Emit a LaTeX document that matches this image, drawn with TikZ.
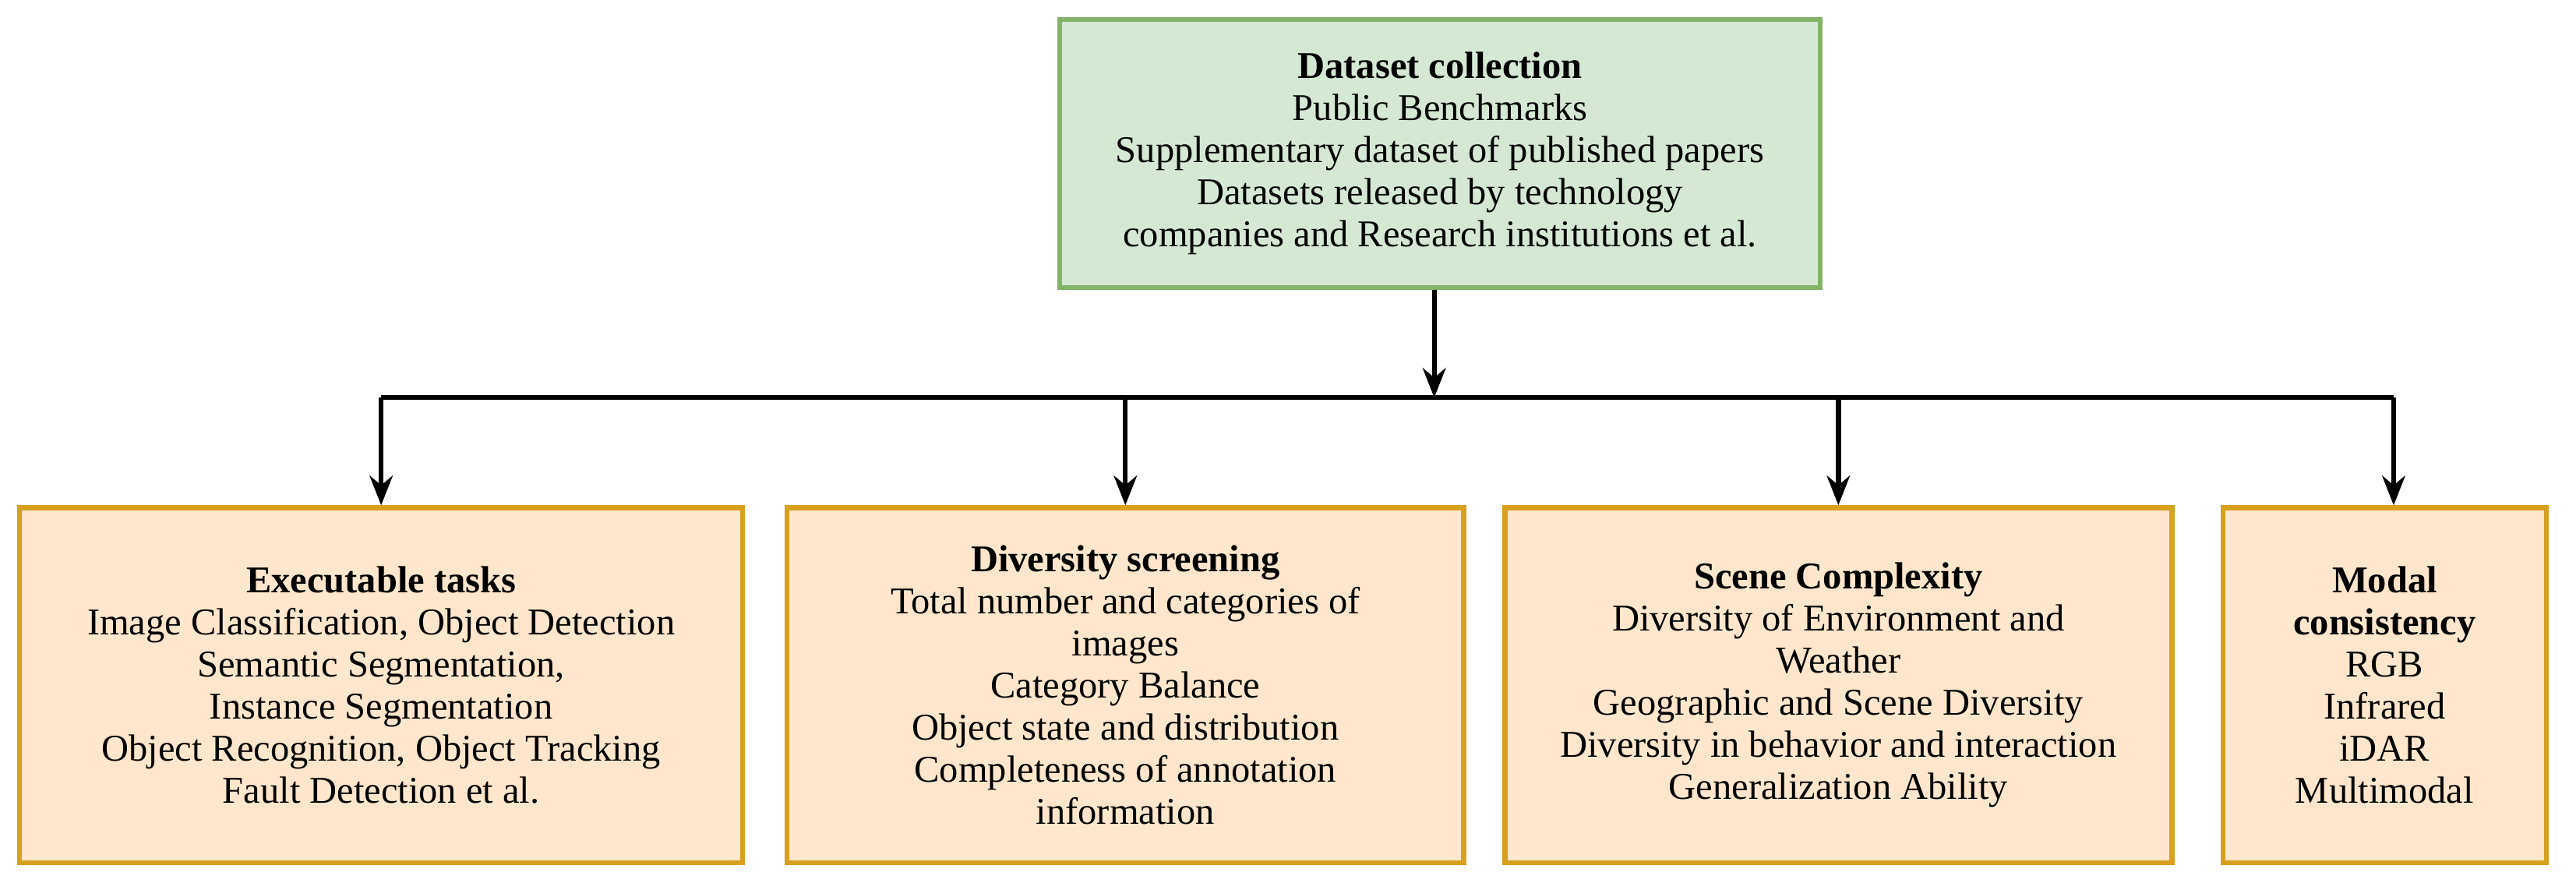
\documentclass[tikz,border=0pt]{standalone}
\usetikzlibrary{arrows.meta}
\usepackage{fontspec}
\setmainfont{Liberation Serif}
\begin{document}
\begin{tikzpicture}[x=0.5pt,y=-0.5pt,
  box/.style={draw, line width=1.5pt, align=center, inner sep=0pt, font=\fontsize{11.5}{12.8}\selectfont},
  top/.style={box, fill={rgb,255:red,213;green,232;blue,212}, draw={rgb,255:red,130;green,179;blue,102}},
  bot/.style={box, fill={rgb,255:red,255;green,230;blue,204}, draw={rgb,255:red,215;green,160;blue,30}},
  arr/.style={-{Stealth[length=9pt,width=7pt]}, line width=1.5pt}]
\useasboundingbox (0,0) rectangle (1568,537);
\node[top, minimum width=463*0.5pt, minimum height=163*0.5pt] (t) at (876.5,93.5) {\textbf{Dataset collection}\\Public Benchmarks\\Supplementary dataset of published papers\\Datasets released by technology\\companies and Research institutions et al.};
\node[bot, minimum width=440*0.5pt, minimum height=216*0.5pt] (b1) at (232,417) {\textbf{Executable tasks}\\Image Classification, Object Detection\\Semantic Segmentation,\\Instance Segmentation\\Object Recognition, Object Tracking\\Fault Detection et al.};
\node[bot, minimum width=412*0.5pt, minimum height=216*0.5pt] (b2) at (685,417) {\textbf{Diversity screening}\\Total number and categories of\\images\\Category Balance\\Object state and distribution\\Completeness of annotation\\information};
\node[bot, minimum width=406*0.5pt, minimum height=216*0.5pt] (b3) at (1119,417) {\textbf{Scene Complexity}\\Diversity of Environment and\\Weather\\Geographic and Scene Diversity\\Diversity in behavior and interaction\\Generalization Ability};
\node[bot, minimum width=197*0.5pt, minimum height=216*0.5pt] (b4) at (1451.5,417) {\textbf{Modal}\\\textbf{consistency}\\RGB\\Infrared\\iDAR\\Multimodal};
\coordinate (j) at (873,242);
\coordinate (l) at (232,242);
\coordinate (r) at (1457,242);
\draw[arr] (t.south -| j) -- (j);
\draw[line width=1.5pt] (l) -- (r);
\draw[arr] (l) -- (b1.north);
\draw[arr] (b2.north |- l) -- (b2.north);
\draw[arr] (b3.north |- l) -- (b3.north);
\draw[arr] (r) -- (r |- b4.north);
\end{tikzpicture}
\end{document}
